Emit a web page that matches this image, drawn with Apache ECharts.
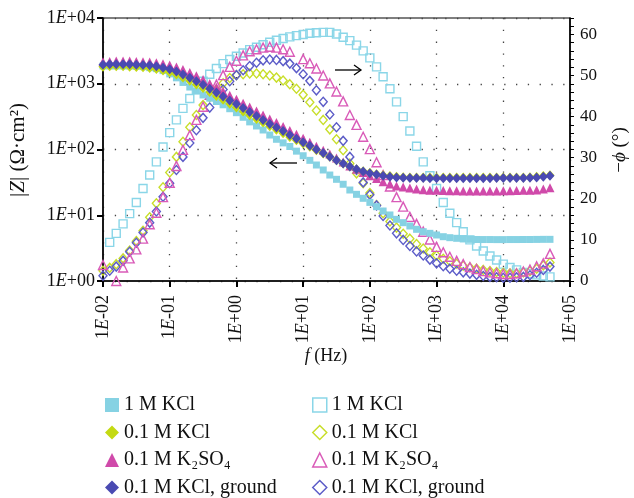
<!DOCTYPE html>
<html>
<head>
<meta charset="utf-8">
<script src="https://cdn.jsdelivr.net/npm/echarts@6/dist/echarts.min.js"></script>
<style>html,body{margin:0;padding:0;background:#fff;}#c{width:634px;height:498px;}</style>
</head>
<body>
<div id="c"></div>
<script>
// Frequencies (Hz), 10 points per decade
const freq = [0.01, 0.0126, 0.0158, 0.02, 0.0251, 0.0316, 0.0398, 0.0501, 0.0631, 0.0794,
  0.1, 0.126, 0.158, 0.2, 0.251, 0.316, 0.398, 0.501, 0.631, 0.794,
  1, 1.26, 1.58, 2, 2.51, 3.16, 3.98, 5.01, 6.31, 7.94,
  10, 12.6, 15.8, 20, 25.1, 31.6, 39.8, 50.1, 63.1, 79.4,
  100, 126, 158, 200, 251, 316, 398, 501, 631, 794,
  1000, 1260, 1580, 2000, 2510, 3160, 3980, 5010, 6310, 7940,
  10000, 12600, 15800, 20000, 25100, 31600, 39800, 50100];

// |Z| (ohm cm2)
const z1MKCl = [1862, 1862, 1862, 1862, 1862, 1841, 1820, 1758, 1698, 1585,
  1413, 1230, 1047, 891, 776, 676, 603, 537, 479, 417,
  363, 309, 263, 228, 198, 166, 143, 126, 111, 94.4,
  80.4, 68.4, 58.1, 48.8, 40.9, 35.2, 29.6, 24.2, 20.8, 18.1,
  15.7, 13.5, 11.6, 10.1, 8.67, 7.71, 6.87, 6.11, 5.62, 5.31,
  5.01, 4.72, 4.56, 4.46, 4.36, 4.3, 4.28, 4.27, 4.27, 4.26,
  4.26, 4.27, 4.27, 4.28, 4.28, 4.29, 4.3, 4.3];
const z01MKCl = [1820, 1840, 1840, 1840, 1820, 1799, 1778, 1738, 1679, 1585,
  1497, 1380, 1245, 1109, 977, 861, 750, 653, 569, 495,
  437, 380, 331, 292, 257, 226, 200, 176, 155, 138,
  123, 110, 97.7, 87.1, 77.6, 68.4, 61.0, 55.0, 50.1, 46.8,
  44.2, 42.2, 40.7, 39.4, 38.5, 38.0, 37.6, 37.6, 37.6, 37.6,
  37.6, 37.6, 37.6, 37.6, 37.6, 37.6, 37.6, 37.6, 37.6, 37.6,
  37.6, 37.6, 37.6, 37.6, 38.0, 38.5, 39.4, 40.7];
const zK2SO4 = [2163, 2188, 2213, 2213, 2213, 2188, 2163, 2138, 2089, 2018,
  1927, 1799, 1641, 1479, 1318, 1161, 1012, 881, 767, 668,
  582, 507, 442, 385, 335, 292, 257, 224, 195, 170,
  148, 129, 112, 97.7, 85.1, 74.1, 64.6, 56.2, 50.1, 44.7,
  39.8, 36.3, 32.4, 29.9, 27.9, 26.9, 26.0, 25.1, 24.5, 24.0,
  23.9, 23.7, 23.6, 23.5, 23.4, 23.4, 23.3, 23.3, 23.3, 23.4,
  23.5, 23.6, 23.7, 23.9, 24.1, 24.3, 25.1, 26.3];
const zGround = [1950, 1972, 1972, 1972, 1972, 1950, 1927, 1905, 1840, 1758,
  1660, 1531, 1380, 1230, 1096, 966, 841, 733, 638, 556,
  490, 427, 372, 324, 282, 245, 216, 191, 166, 146,
  129, 114, 100, 88.1, 77.6, 68.4, 61.0, 55.0, 50.1, 46.2,
  43.7, 41.7, 39.8, 38.5, 37.6, 37.2, 36.8, 36.7, 36.7, 36.6,
  36.6, 36.6, 36.6, 36.6, 36.6, 36.6, 36.6, 36.6, 36.6, 36.7,
  36.7, 36.8, 36.9, 37.0, 37.2, 37.6, 38.5, 39.8];

// -phase (degrees)
const p1MKCl = [null, 9.4, 11.6, 13.9, 16.4, 19.1, 22.5, 25.8, 29.0, 32.6,
  36.1, 39.2, 42.0, 44.4, 46.6, 48.6, 50.3, 51.7, 52.9, 53.9,
  54.7, 55.5, 56.3, 56.9, 57.5, 58.1, 58.6, 59.0, 59.4, 59.7,
  60.0, 60.3, 60.4, 60.5, 60.5, 60.1, 59.3, 58.5, 57.4, 56.0,
  54.3, 52.1, 49.7, 46.8, 43.6, 40.0, 36.5, 32.8, 29.0, 25.6,
  22.5, 19.1, 16.5, 14.2, 12.0, 10.0, 8.5, 7.3, 6.1, 5.1,
  4.1, 3.3, 2.7, 2.1, 1.8, 1.5, 1.2, 1.0];
const p01MKCl = [2.5, 3.2, 4.1, 5.5, 7.4, 9.7, 12.2, 15.5, 18.9, 22.8,
  26.4, 30.2, 33.9, 37.4, 40.4, 42.8, 44.8, 46.6, 48.1, 49.4,
  50.1, 50.3, 50.5, 50.5, 50.3, 50.0, 49.5, 48.8, 47.9, 46.8,
  45.3, 43.5, 41.5, 39.2, 36.9, 34.5, 31.8, 28.6, 26.2, 23.8,
  21.4, 18.5, 16.5, 14.5, 13.0, 11.5, 10.3, 9.0, 7.9, 7.0,
  6.2, 5.4, 4.8, 4.2, 3.7, 3.3, 3.0, 2.7, 2.4, 2.2,
  2.0, 1.9, 1.9, 2.1, 2.4, 3.0, 3.8, 4.5];
const pK2SO4 = [3.9, null, 0.0, 3.3, 5.5, 7.7, 10.3, 13.8, 16.6, 20.4,
  23.9, 28.0, 31.9, 35.5, 39.2, 42.4, 45.3, 47.8, 50.1, 52.1,
  53.6, 54.9, 55.9, 56.4, 56.8, 57.0, 56.8, 56.4, 55.8, null,
  54.0, 53.0, 51.7, 50.0, 48.1, 46.1, 43.7, 40.4, 38.0, 35.1,
  32.1, 28.9, 25.8, 23.0, 20.4, 18.1, 15.6, 13.9, 12.0, 10.1,
  8.3, 7.0, 5.9, 4.9, 4.1, 3.4, 2.9, 2.4, 2.1, 1.9,
  1.7, 1.7, 1.9, 2.3, 2.8, 3.6, 4.3, 6.6];
const pGround = [1.3, 2.5, 3.5, 4.9, 7.1, 9.3, 11.8, 14.2, 16.9, 20.5,
  23.8, 27.0, 30.2, 33.6, 36.7, 39.7, 42.2, 44.6, 46.6, 48.6,
  50.1, 51.3, 52.3, 53.1, 53.7, 53.9, 53.8, 53.5, 52.9, 51.8,
  50.3, 48.7, 46.4, 43.6, 40.5, 37.4, 34.1, 30.2, 27.0, 24.0,
  21.0, 18.4, 15.8, 13.5, 11.6, 10.0, 8.5, 7.2, 6.2, 5.2,
  4.3, 3.6, 3.0, 2.5, 2.1, 1.8, 1.5, 1.2, 1.0, 0.9,
  0.8, 0.8, 0.9, 1.0, 1.4, 2.0, 2.7, 3.5];

const legendLabels = ['1 M KCl', '0.1 M KCl', '0.1 M K\u2082SO\u2084', '0.1 M KCl, ground'];

const FONT = '"Liberation Serif", "DejaVu Serif", serif';
const C = { cyan: '#86d2e3', yel: '#c4da12', pink: '#d04aaa', blue: '#4a4ab2' };
const CH = { cyan: '#8ad6e8', yel: '#c8de2a', pink: '#d95bb8', blue: '#5c5cc8' };

function pairs(arr) {
  return freq.map((f, i) => [f, arr[i]]).filter(p => p[1] !== null);
}
function fmtExp(v) {
  const e = Math.round(Math.log10(v));
  const a = Math.abs(e);
  return '1{e|E}' + (e < 0 ? '-' : '+') + (a < 10 ? '0' : '') + a;
}
const richE = { e: { fontStyle: 'italic', fontFamily: FONT, fontSize: 18, color: '#111' } };

const nameLabel = { zA: legendLabels[0], zB: legendLabels[1], zC: legendLabels[2], zD: legendLabels[3],
  pA: legendLabels[0], pB: legendLabels[1], pC: legendLabels[2], pD: legendLabels[3] };

function filled(name, arr, symbol, size, color) {
  return { name: name, type: 'scatter', yAxisIndex: 0, data: pairs(arr), symbol: symbol, symbolSize: size,
    itemStyle: { color: color, opacity: 1 }, silent: true };
}
function hollow(name, arr, symbol, size, color) {
  return { name: name, type: 'scatter', yAxisIndex: 1, data: pairs(arr), symbol: symbol, symbolSize: size,
    itemStyle: { color: 'rgba(255,255,255,0)', borderColor: color, borderWidth: 1.4, opacity: 1 }, silent: true };
}
const HOLLOW = 'rgba(255,255,255,0)';
const legendCommon = {
  orient: 'vertical', top: 395, height: 103, padding: 0, itemGap: 7.5, itemWidth: 14, itemHeight: 14,
  selectedMode: false, textStyle: { fontFamily: FONT, fontSize: 20, color: '#111' },
  formatter: n => nameLabel[n]
};

const chart = echarts.init(document.getElementById('c'), null, { renderer: 'canvas' });
chart.setOption({
  animation: false,
  backgroundColor: '#fff',
  grid: { left: 103, right: 64, top: 18, bottom: 217, show: true, borderColor: '#000', borderWidth: 1.2, backgroundColor: 'transparent' },
  xAxis: {
    type: 'log', logBase: 10, min: 0.01, max: 100000, splitNumber: 7,
    axisLine: { show: true, lineStyle: { color: '#000', width: 1.5 } },
    axisTick: { show: true, length: 6, lineStyle: { color: '#000', width: 2 } },
    minorTick: { show: false },
    splitLine: { show: true, lineStyle: { color: '#444', width: 1.3, type: [1.3, 10.5] } },
    axisLabel: { rotate: 90, margin: 14, formatter: fmtExp, fontFamily: FONT, fontSize: 18, color: '#111', rich: richE }
  },
  yAxis: [
    {
      type: 'log', logBase: 10, min: 1, max: 10000, splitNumber: 4, position: 'left',
      axisLine: { show: true, lineStyle: { color: '#000', width: 1.5 } },
      axisTick: { show: true, length: 6, lineStyle: { color: '#000', width: 2 } },
      minorTick: { show: false },
      splitLine: { show: true, lineStyle: { color: '#444', width: 1.3, type: [1.3, 10.5] } },
      axisLabel: { margin: 8, formatter: fmtExp, fontFamily: FONT, fontSize: 18, color: '#111', rich: richE }
    },
    {
      type: 'value', min: 0, max: 64, interval: 2, position: 'right',
      axisLine: { show: true, lineStyle: { color: '#000', width: 1.5 } },
      axisTick: { show: true, length: 4, lineStyle: { color: '#000', width: 1 } },
      splitLine: { show: false },
      axisLabel: { margin: 10, fontFamily: FONT, fontSize: 17, color: '#111',
        formatter: v => (v % 10 === 0 ? String(v) : '') }
    }
  ],
  legend: [
    Object.assign({}, legendCommon, {
      left: 105,
      data: [
        { name: 'zA', icon: 'rect', itemStyle: { color: C.cyan } },
        { name: 'zB', icon: 'diamond', itemStyle: { color: C.yel } },
        { name: 'zC', icon: 'triangle', itemStyle: { color: C.pink } },
        { name: 'zD', icon: 'diamond', itemStyle: { color: C.blue } }
      ]
    }),
    Object.assign({}, legendCommon, {
      left: 312,
      data: [
        { name: 'pA', icon: 'rect', itemStyle: { color: HOLLOW, borderColor: CH.cyan, borderWidth: 1.5 } },
        { name: 'pB', icon: 'diamond', itemStyle: { color: HOLLOW, borderColor: CH.yel, borderWidth: 1.5 } },
        { name: 'pC', icon: 'triangle', itemStyle: { color: HOLLOW, borderColor: CH.pink, borderWidth: 1.5 } },
        { name: 'pD', icon: 'diamond', itemStyle: { color: HOLLOW, borderColor: CH.blue, borderWidth: 1.5 } }
      ]
    })
  ],
  series: [
    hollow('pA', p1MKCl, 'rect', 8, CH.cyan),
    hollow('pB', p01MKCl, 'diamond', [8, 9], CH.yel),
    hollow('pD', pGround, 'diamond', [8, 9], CH.blue),
    hollow('pC', pK2SO4, 'triangle', 9, CH.pink),
    filled('zA', z1MKCl, 'rect', 7, C.cyan),
    filled('zC', zK2SO4, 'triangle', 9, C.pink),
    filled('zB', z01MKCl, 'diamond', [9, 10], C.yel),
    filled('zD', zGround, 'diamond', [9, 10], C.blue)
  ],
  graphic: [
    { type: 'line', shape: { x1: 270, y1: 163, x2: 297, y2: 163 }, style: { stroke: '#000', lineWidth: 1.3 } },
    { type: 'polyline', shape: { points: [[277, 158], [270, 163], [277, 168]] }, style: { stroke: '#000', fill: null, lineWidth: 1.3 } },
    { type: 'line', shape: { x1: 335, y1: 70, x2: 361, y2: 70 }, style: { stroke: '#000', lineWidth: 1.3 } },
    { type: 'polyline', shape: { points: [[354, 65], [361, 70], [354, 75]] }, style: { stroke: '#000', fill: null, lineWidth: 1.3 } },
    { type: 'text', x: 18, y: 150, rotation: Math.PI / 2,
      style: { text: '|{i|Z}| (\u03a9\u00b7cm\u00b2)', fontFamily: FONT, fontSize: 21, fill: '#111',
        textAlign: 'center', textVerticalAlign: 'middle',
        rich: { i: { fontStyle: 'italic', fontFamily: FONT, fontSize: 21, fill: '#111' } } } },
    { type: 'text', x: 620, y: 150, rotation: Math.PI / 2,
      style: { text: '\u2212{i|\u03d5} (\u00b0)', fontFamily: FONT, fontSize: 19, fill: '#111',
        textAlign: 'center', textVerticalAlign: 'middle',
        rich: { i: { fontStyle: 'italic', fontFamily: FONT, fontSize: 19, fill: '#111' } } } },
    { type: 'text', x: 326, y: 356,
      style: { text: '{i|f} (Hz)', fontFamily: FONT, fontSize: 18, fill: '#111',
        textAlign: 'center', textVerticalAlign: 'middle',
        rich: { i: { fontStyle: 'italic', fontFamily: FONT, fontSize: 18, fill: '#111' } } } }
  ]
});
</script>
</body>
</html>
